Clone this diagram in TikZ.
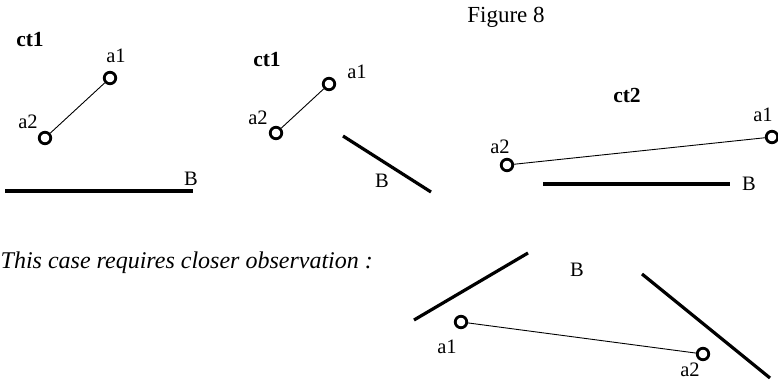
\documentclass[tikz,border=0pt]{standalone}
\usepackage{fontspec}
\setmainfont{Liberation Serif}
\begin{document}
\begin{tikzpicture}[x=1pt,y=-1pt,
  pt/.style={circle,draw,line width=2.8pt,inner sep=0pt,minimum size=11.5pt,fill=white},
  lbl/.style={inner sep=0pt,font=\fontsize{20.5}{22}\selectfont},
  ttl/.style={inner sep=0pt,font=\fontsize{21.5}{23}\selectfont\bfseries},
  seg/.style={line width=0.9pt},
  wall/.style={line width=3.2pt}]
\useasboundingbox (0,0) rectangle (778,382);
% Figure title
\node[inner sep=0pt,font=\fontsize{23}{25}\selectfont] (fig) at (506,17) {Figure 8};
% Panel 1
\node[ttl] (t1) at (30,40) {ct1};
\node[pt] (p1a1) at (110,78) {};
\node[pt] (p1a2) at (45,138) {};
\draw[seg] (p1a2) -- (p1a1);
\node[lbl] (l1a1) at (116,56) {a1};
\node[lbl] (l1a2) at (28,122) {a2};
\coordinate (b1s) at (5,191);
\coordinate (b1e) at (193,191);
\draw[wall] (b1s) -- (b1e);
\node[lbl] (l1b) at (191,179) {B};
% Panel 2
\node[ttl] (t2) at (267,60) {ct1};
\node[pt] (p2a1) at (329,84) {};
\node[pt] (p2a2) at (276,133) {};
\draw[seg] (p2a2) -- (p2a1);
\node[lbl] (l2a1) at (357,72) {a1};
\node[lbl] (l2a2) at (258,118) {a2};
\coordinate (b2s) at (343,136);
\coordinate (b2e) at (431,192);
\draw[wall] (b2s) -- (b2e);
\node[lbl] (l2b) at (382,181) {B};
% Panel 3
\node[ttl] (t3) at (627,95) {ct2};
\node[pt] (p3a1) at (772,137) {};
\node[pt] (p3a2) at (507,165) {};
\draw[seg] (p3a2) -- (p3a1);
\node[lbl] (l3a1) at (763,115) {a1};
\node[lbl] (l3a2) at (500,147) {a2};
\coordinate (b3s) at (543,184);
\coordinate (b3e) at (730,184);
\draw[wall] (b3s) -- (b3e);
\node[lbl] (l3b) at (749,184) {B};
% Sentence
\node[inner sep=0pt,anchor=west,font=\fontsize{24}{27}\selectfont\itshape] (txt) at (0.5,263) {This case requires closer observation :};
% Panel 4
\coordinate (b4s) at (414,320);
\coordinate (b4e) at (528,253);
\draw[wall] (b4s) -- (b4e);
\coordinate (b5s) at (642,274);
\coordinate (b5e) at (770,378);
\draw[wall] (b5s) -- (b5e);
\node[lbl] (l4b) at (577,270) {B};
\node[pt] (p4a1) at (461,322) {};
\node[pt] (p4a2) at (703,354) {};
\draw[seg] (p4a1) -- (p4a2);
\node[lbl] (l4a1) at (447,347) {a1};
\node[lbl] (l4a2) at (690,370) {a2};
\end{tikzpicture}
\end{document}
